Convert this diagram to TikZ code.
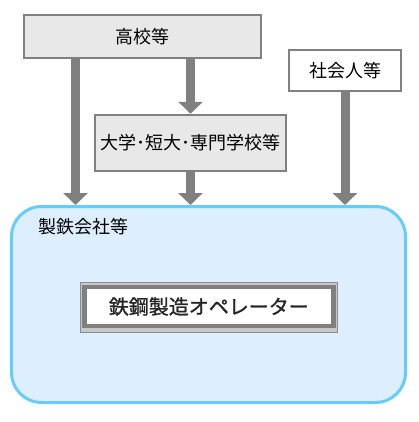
\documentclass[tikz,border=0pt]{standalone}
\usepackage{fontspec}
\newfontfamily\jp{Noto Sans CJK JP}
\newfontfamily\jpm[FakeBold=1.2]{Noto Sans CJK JP}
\usetikzlibrary{arrows.meta}
\definecolor{boxgray}{HTML}{808080}
\definecolor{boxfill}{HTML}{E8E8E8}
\definecolor{compblue}{HTML}{66CCFF}
\definecolor{compfill}{HTML}{DDEEFF}
\definecolor{framegray}{HTML}{8C8C8C}
\definecolor{framefill}{HTML}{C8C8C8}
\definecolor{optext}{HTML}{262626}
\tikzset{
  srcbox/.style={draw=boxgray, line width=2.5bp, fill=boxfill, inner sep=0pt,
    font=\jp\fontsize{18bp}{20bp}\selectfont},
  whitebox/.style={srcbox, fill=white},
  arr/.style={draw=boxgray, line width=9bp,
    -{Triangle[width=24bp,length=12bp]}},
}
\begin{document}
\begin{tikzpicture}[x=1bp,y=-1bp]
\useasboundingbox (0,0) rectangle (419,422);
% company
\node[draw=compblue, fill=compfill, line width=3bp, rounded corners=30bp,
  minimum width=394bp, minimum height=196bp, inner sep=0pt] (company) at (208.5,304.5) {};
\node[anchor=west, inner sep=0pt, font=\jp\fontsize{18bp}{20bp}\selectfont] (complabel) at (38.5,227) {製鉄会社等};
% operator
\node[draw=framegray, fill=framefill, line width=1bp, minimum width=257bp,
  minimum height=49.5bp, inner sep=0pt] (oframe) at (209,307.25) {};
\node[draw=boxgray, fill=white, line width=4.5bp, minimum width=249bp,
  minimum height=39bp, inner sep=0pt, text=optext,
  font=\jpm\fontsize{20bp}{22bp}\selectfont] (oper) at (208.8,306.5) {鉄鋼製造オペレーター};
% sources
\node[srcbox, minimum width=237bp, minimum height=43bp] (hs) at (142.5,36.5) {高校等};
\node[whitebox, minimum width=112bp, minimum height=41bp] (work) at (345,70.5) {社会人等};
\node[srcbox, minimum width=191bp, minimum height=56bp] (univ) at (190.5,143) {大学･短大･専門学校等};
% arrows
\coordinate (xl) at (75.5,0);
\draw[arr] (hs.south -| xl) -- (company.north -| xl);
\draw[arr] (hs.south -| univ.north) -- (univ.north);
\draw[arr] (univ.south) -- (company.north -| univ.south);
\draw[arr] (work.south) -- (company.north -| work.south);
\end{tikzpicture}
\end{document}
